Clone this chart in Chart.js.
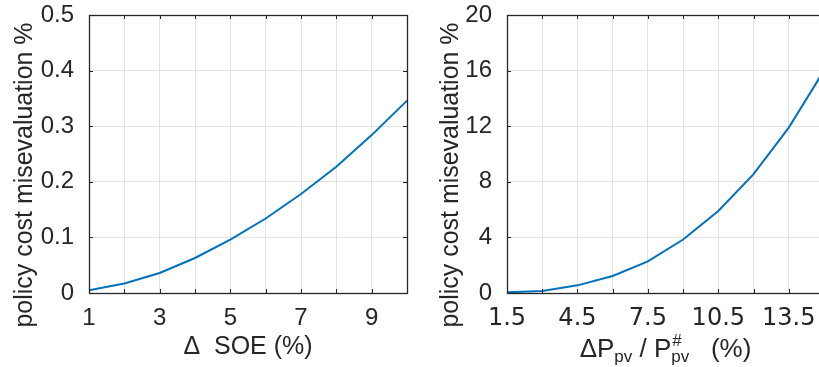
<!DOCTYPE html>
<html>
<head>
<meta charset="utf-8">
<script src="https://cdn.jsdelivr.net/npm/chart.js@4.4.0/dist/chart.umd.min.js"></script>
<style>
  html, body { margin: 0; padding: 0; background: #fff; overflow: hidden; width: 819px; height: 367px; }
  canvas { position: absolute; top: 0; }
  #left { left: 0; }
  #right { left: 412px; }
</style>
</head>
<body>
<canvas id="left" width="412" height="367"></canvas>
<canvas id="right" width="420" height="367"></canvas>
<script>
// left panel: Δ SOE (%) vs cost misevaluation
const soeDelta = [1, 2, 3, 4, 5, 6, 7, 8, 9, 10];
const soeCost = [0.005, 0.017, 0.036, 0.063, 0.096, 0.134, 0.178, 0.227, 0.284, 0.346];

// right panel: ΔPpv / P#pv (%) vs cost misevaluation
const pvDelta = [1.5, 3, 4.5, 6, 7.5, 9, 10.5, 12, 13.5, 15];
const pvCost = [0.05, 0.14, 0.55, 1.22, 2.28, 3.85, 5.9, 8.55, 11.9, 16.0];

const yTitle = 'policy cost misevaluation %';

Chart.defaults.color = '#262626';
Chart.defaults.font.family = '"Liberation Sans", Arial, sans-serif';

const INK = '#262626';
const GRID = '#e3e3e3';
const SANS = '"Liberation Sans", Arial, sans-serif';

// box around the plot with small inward ticks, matlab style
const framePlugin = {
    id: 'frame',
    afterDraw(chart) {
        const { ctx, chartArea: a, scales } = chart;
        ctx.save();
        ctx.strokeStyle = INK;
        ctx.lineWidth = 1;
        ctx.beginPath();
        scales.x.ticks.forEach(t => {
            const px = Math.round(scales.x.getPixelForValue(t.value)) + 0.5;
            ctx.moveTo(px, a.bottom); ctx.lineTo(px, a.bottom - 4);
            ctx.moveTo(px, a.top); ctx.lineTo(px, a.top + 4);
        });
        scales.y.ticks.forEach(t => {
            const py = Math.round(scales.y.getPixelForValue(t.value)) + 0.5;
            ctx.moveTo(a.left, py); ctx.lineTo(a.left + 4, py);
            ctx.moveTo(a.right, py); ctx.lineTo(a.right - 4, py);
        });
        ctx.stroke();
        ctx.lineWidth = 1.3;
        ctx.strokeRect(Math.round(a.left) + 0.5, Math.round(a.top) + 0.5,
            Math.round(a.right - a.left), Math.round(a.bottom - a.top));
        ctx.restore();
    }
};

// rotated y label, placed like the matlab one (a bit below the plot centre)
const yLabelPlugin = {
    id: 'yLabel',
    afterDraw(chart, args, o) {
        const { ctx } = chart;
        ctx.save();
        ctx.font = o.size + 'px ' + SANS;
        const w = ctx.measureText(o.text).width;
        ctx.translate(o.cx, o.cy);
        ctx.rotate(-Math.PI / 2);
        ctx.scale(o.length / w, 1);
        ctx.fillStyle = INK;
        ctx.textAlign = 'center';
        ctx.textBaseline = 'middle';
        ctx.fillText(o.text, 0, 0);
        ctx.restore();
    }
};

// x title with sub/superscripts for the right panel
const pvTitlePlugin = {
    id: 'pvTitle',
    afterDraw(chart) {
        const { ctx, chartArea: a } = chart;
        const big = '26px ' + SANS;
        const small = '17px ' + SANS;
        const base = 357;
        const parts = [
            { t: '\u0394P', f: big, dy: 0 },
            { t: 'pv', f: small, dy: 5 },
            { t: ' / P', f: big, dy: 0 },
            { t: 'pv', f: small, dy: 5, sup: '#' },
            { t: '   (%)', f: big, dy: 0 }
        ];
        ctx.save();
        let total = 0;
        parts.forEach(p => { ctx.font = p.f; p.w = ctx.measureText(p.t).width; total += p.w; });
        let x = (a.left + a.right) / 2 - total / 2;
        ctx.fillStyle = INK;
        ctx.textBaseline = 'alphabetic';
        ctx.textAlign = 'left';
        parts.forEach(p => {
            ctx.font = p.f;
            ctx.fillText(p.t, x, base + p.dy);
            if (p.sup) ctx.fillText(p.sup, x + 1, base - 11);
            x += p.w;
        });
        ctx.restore();
    }
};

function panel(canvasId, xs, ys, opts) {
    return new Chart(document.getElementById(canvasId), {
        type: 'line',
        data: {
            datasets: [{
                data: xs.map((x, i) => ({ x: x, y: ys[i] })),
                borderColor: '#0072BD',
                borderWidth: 2,
                pointRadius: 0,
                tension: 0,
                fill: false
            }]
        },
        options: {
            responsive: false,
            animation: false,
            layout: { padding: { left: 0, top: 15, right: opts.padRight, bottom: 0 } },
            plugins: {
                legend: { display: false },
                tooltip: { enabled: false },
                yLabel: { text: yTitle, size: 26, length: 305, cx: opts.yLabelX, cy: 175 }
            },
            scales: {
                x: {
                    type: 'linear',
                    min: opts.xMin, max: opts.xMax,
                    afterFit: s => { s.height = 74; s.paddingLeft = 0; s.paddingRight = 0; },
                    grid: { color: GRID, drawTicks: false },
                    border: { display: false },
                    ticks: {
                        stepSize: opts.xStep,
                        autoSkip: false,
                        maxRotation: 0,
                        padding: 11,
                        font: { size: 24, family: opts.xFont },
                        callback: (v, i) => (i % 2 === 0 && v < opts.xMax) ? opts.fmt(v) : ''
                    },
                    title: {
                        display: !!opts.xTitle,
                        text: opts.xTitle || '',
                        font: { size: 25 },
                        padding: { top: 0, bottom: 5 }
                    }
                },
                y: {
                    min: opts.yMin, max: opts.yMax,
                    afterFit: s => { s.width = opts.yWidth; s.paddingTop = 0; s.paddingBottom = 0; },
                    grid: { color: GRID, drawTicks: false },
                    border: { display: false },
                    ticks: {
                        stepSize: opts.yStep,
                        padding: 15,
                        font: { size: 24 }
                    }
                }
            }
        },
        plugins: opts.plugins
    });
}

panel('left', soeDelta, soeCost, {
    xMin: 1, xMax: 10, xStep: 1, yMin: 0, yMax: 0.5, yStep: 0.1,
    padRight: 5, yWidth: 89, yLabelX: 25,
    xTitle: '\u0394  SOE (%)',
    xFont: SANS,
    fmt: v => String(v),
    plugins: [framePlugin, yLabelPlugin]
});

panel('right', pvDelta, pvCost, {
    xMin: 1.5, xMax: 15, xStep: 1.5, yMin: 0, yMax: 20, yStep: 4,
    padRight: 8, yWidth: 95, yLabelX: 39,
    xTitle: null,
    xFont: '"DejaVu Sans", sans-serif',
    fmt: v => v.toFixed(1),
    plugins: [framePlugin, yLabelPlugin, pvTitlePlugin]
});
</script>
</body>
</html>
